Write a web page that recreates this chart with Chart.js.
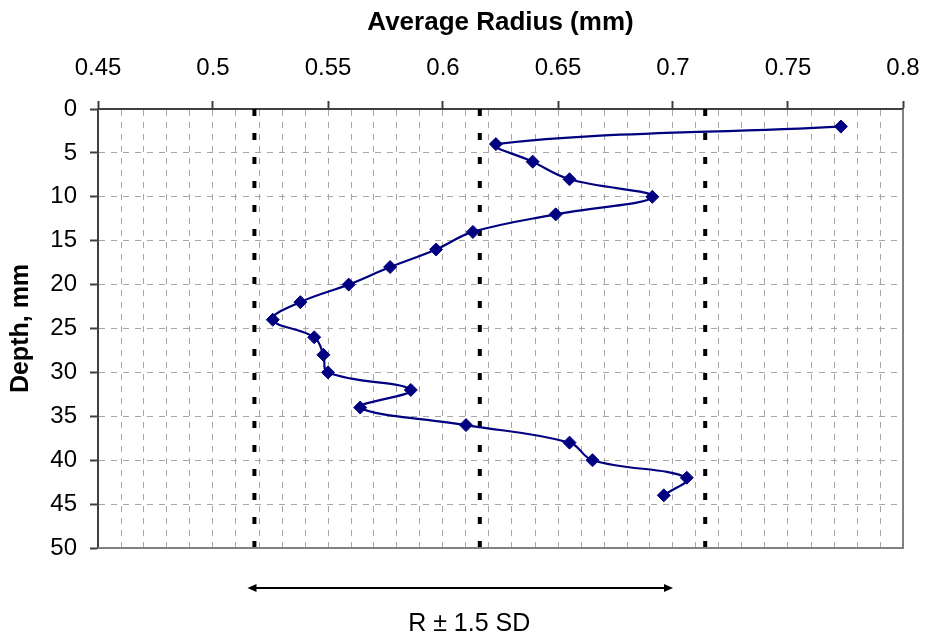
<!DOCTYPE html>
<html>
<head>
<meta charset="utf-8">
<script src="https://cdn.jsdelivr.net/npm/chart.js@4/dist/chart.umd.min.js"></script>
<style>
  body { margin: 0; background: #fff; }
  canvas { display: block; }
</style>
</head>
<body>
<canvas id="chart" width="925" height="638"></canvas>
<script>
// Depth below surface (mm) and measured average radius (mm)
const depths = [2, 4, 6, 8, 10, 12, 14, 16, 18, 20, 22, 24, 26, 28, 30, 32, 34, 36, 38, 40, 42, 44];
const radius = [0.773, 0.623, 0.639, 0.655, 0.691, 0.649, 0.613, 0.597, 0.577, 0.559, 0.538,
                0.526, 0.544, 0.548, 0.550, 0.586, 0.564, 0.610, 0.655, 0.665, 0.706, 0.696];

// Mean radius and the +/- 1.5 SD limits
const bandLines = [0.518, 0.616, 0.714];
const depthRange = [0, 50];

// Ends of the arrow under the plot and its label
const arrowRange = [0.515, 0.700];
const arrowLabel = 'R \u00b1 1.5 SD';

const FONT = "'Liberation Sans', Arial, sans-serif";
const isMajor = v => Math.round(v * 100) % 5 === 0;

const datasets = [{
    data: radius.map((r, i) => ({ x: r, y: depths[i] })),
    showLine: true,
    borderColor: '#000080',
    backgroundColor: '#000080',
    borderWidth: 2.2,
    tension: 0.4,
    pointStyle: 'rectRot',
    pointRadius: 6.5,
    pointBorderWidth: 1
}];
bandLines.forEach(v => {
    datasets.push({
        data: depthRange.map(d => ({ x: v, y: d })),
        showLine: true,
        borderColor: '#000',
        borderWidth: 4,
        borderDash: [7, 17],
        pointRadius: 0
    });
});

// frame on the right/bottom, arrow and its label under the plot
const extras = {
    id: 'extras',
    afterDatasetsDraw(chart) {
        const { ctx, chartArea: a, scales: { x } } = chart;
        ctx.save();
        ctx.strokeStyle = '#808080';
        ctx.lineWidth = 2;
        ctx.beginPath();
        ctx.moveTo(a.left, a.bottom);
        ctx.lineTo(a.right, a.bottom);
        ctx.lineTo(a.right, a.top);
        ctx.stroke();

        const x1 = x.getPixelForValue(arrowRange[0]);
        const x2 = x.getPixelForValue(arrowRange[1]);
        const y = a.bottom + 40;
        ctx.strokeStyle = '#000';
        ctx.fillStyle = '#000';
        ctx.lineWidth = 2;
        ctx.beginPath();
        ctx.moveTo(x1 + 4, y);
        ctx.lineTo(x2 - 4, y);
        ctx.stroke();
        ctx.beginPath();
        ctx.moveTo(x1, y);
        ctx.lineTo(x1 + 9, y - 4);
        ctx.lineTo(x1 + 9, y + 4);
        ctx.closePath();
        ctx.moveTo(x2, y);
        ctx.lineTo(x2 - 9, y - 4);
        ctx.lineTo(x2 - 9, y + 4);
        ctx.closePath();
        ctx.fill();

        ctx.font = '25px ' + FONT;
        ctx.textAlign = 'center';
        ctx.textBaseline = 'alphabetic';
        ctx.fillText(arrowLabel, (x1 + x2) / 2 + 9, a.bottom + 83);
        ctx.restore();
    }
};

new Chart(document.getElementById('chart'), {
    type: 'scatter',
    data: { datasets },
    options: {
        responsive: false,
        animation: false,
        layout: { padding: { top: 0, left: 0, right: 22, bottom: 90 } },
        plugins: { legend: { display: false }, tooltip: { enabled: false } },
        scales: {
            x: {
                position: 'top',
                min: 0.45,
                max: 0.8,
                afterFit: s => {
                    s.height = 109;
                    s.paddingLeft = 0;
                    s.paddingRight = 0;
                },
                ticks: {
                    stepSize: 0.01,
                    autoSkip: false,
                    maxRotation: 0,
                    minRotation: 0,
                    padding: 18,
                    color: '#000',
                    font: { family: FONT, size: 24 },
                    callback: v => isMajor(v) ? String(+v.toFixed(2)) : ''
                },
                grid: {
                    color: '#a6a6a6',
                    lineWidth: 1,
                    tickLength: 8,
                    tickWidth: 2,
                    tickColor: c => (c.tick && isMajor(c.tick.value)) ? '#404040' : 'rgba(0,0,0,0)'
                },
                border: { color: '#404040', width: 2, dash: [6, 6] },
                title: {
                    display: true,
                    text: 'Average Radius (mm)',
                    color: '#000',
                    padding: { top: 7, bottom: 0 },
                    font: { family: FONT, size: 26, weight: 'bold' }
                }
            },
            y: {
                reverse: true,
                min: 0,
                max: 50,
                afterFit: s => { s.width = 98; },
                ticks: {
                    stepSize: 5,
                    padding: 13,
                    color: '#000',
                    font: { family: FONT, size: 24 }
                },
                grid: {
                    color: '#a6a6a6',
                    lineWidth: 1,
                    tickLength: 8,
                    tickWidth: 2,
                    tickColor: '#404040'
                },
                border: { color: '#404040', width: 2, dash: [6, 6] },
                title: {
                    display: true,
                    text: 'Depth, mm',
                    color: '#000',
                    padding: { top: 6, bottom: 0 },
                    font: { family: FONT, size: 25, weight: 'bold' }
                }
            }
        }
    },
    plugins: [extras]
});
</script>
</body>
</html>
